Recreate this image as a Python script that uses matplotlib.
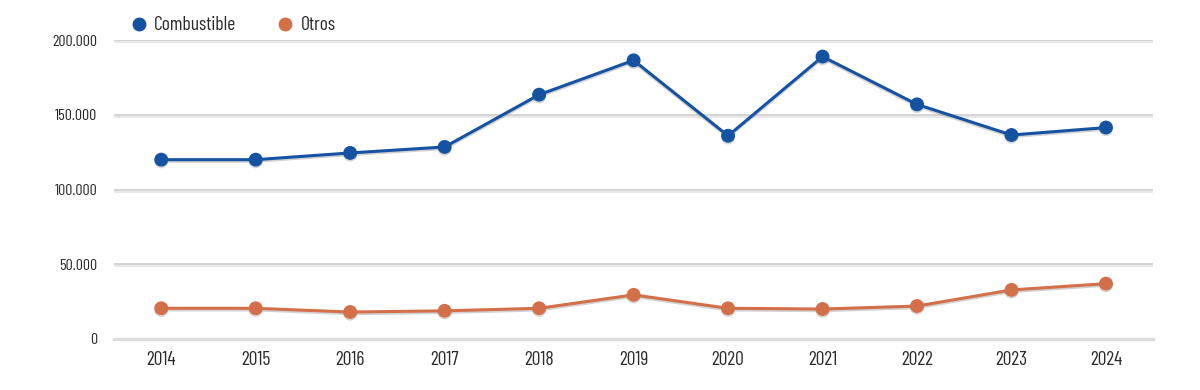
import matplotlib
matplotlib.use("Agg")
import matplotlib.pyplot as plt
import matplotlib.patheffects as pe
from matplotlib.lines import Line2D
from matplotlib.ticker import FuncFormatter

# # Data

years = ["2014", "2015", "2016", "2017", "2018", "2019", "2020", "2021", "2022", "2023", "2024"]
combustible = [120000, 120000, 124500, 128500, 163500, 186500, 136000, 189000, 157000, 136500, 141500]
otros = [20500, 20500, 18000, 18800, 20500, 29500, 20500, 20000, 22000, 32800, 37000]

blue = "#1553a2"
orange = "#d3704a"

plt.rcParams['font.family'] = ['Barlow Condensed', 'DejaVu Sans']

# # Figure

fig = plt.figure(figsize=(12, 3.9), dpi=100)
ax = fig.add_axes([0.095, 0.131, 0.866, 0.766])

x = list(range(len(years)))
shadow = [pe.SimpleLineShadow(offset=(0, -1.2), shadow_color='gray', alpha=0.35), pe.Normal()]

ax.plot(x, combustible, color=blue, lw=2.2, marker='o', markersize=9, zorder=3, path_effects=shadow)
ax.plot(x, otros, color=orange, lw=2.2, marker='o', markersize=9, zorder=3, path_effects=shadow)

ax.set_xlim(-0.5, len(years) - 0.5)
ax.set_ylim(0, 200000)
ax.set_yticks([0, 50000, 100000, 150000, 200000])
ax.yaxis.set_major_formatter(FuncFormatter(lambda v, p: f"{int(v):,}".replace(",", ".")))
ax.set_xticks(x)
ax.set_xticklabels(years)

ax.yaxis.grid(True, color='#cdcdcd', lw=1.2,
              path_effects=[pe.SimpleLineShadow(offset=(0, -1.5), shadow_color='#e4e4e4', alpha=1), pe.Normal()])
ax.set_axisbelow(True)

for s in ['top', 'right', 'left']:
    ax.spines[s].set_visible(False)
ax.spines['bottom'].set_color('#dddddd')
ax.spines['bottom'].set_linewidth(2.5)

ax.tick_params(axis='both', length=0)
ax.tick_params(axis='x', labelsize=14, colors='#2a2a2a', pad=9)
ax.tick_params(axis='y', labelsize=11.5, colors='#2a2a2a', pad=12)

# Legend
handles = [
    Line2D([], [], color=blue, marker='o', linestyle='none', markersize=9),
    Line2D([], [], color=orange, marker='o', linestyle='none', markersize=9),
]
fig.legend(handles, ["Combustible", "Otros"], loc='center left', bbox_to_anchor=(0.109, 0.935),
           ncol=2, frameon=False, fontsize=14, handlelength=0.8, handletextpad=0.4, columnspacing=2.1,
           labelcolor='#2a2a2a', borderaxespad=0, borderpad=0)

plt.savefig("out.png", dpi=100)
